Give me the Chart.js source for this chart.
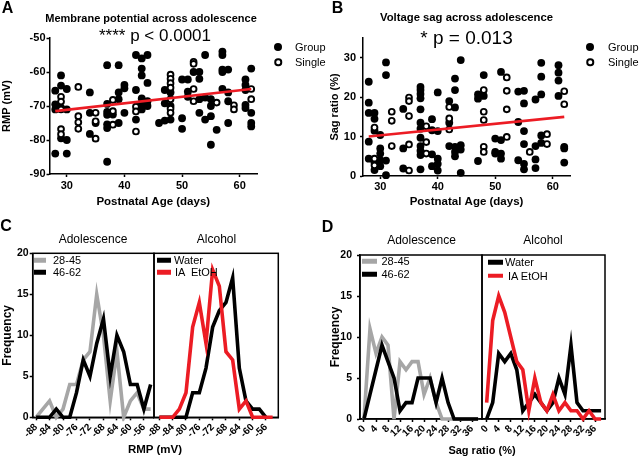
<!DOCTYPE html>
<html>
<head>
<meta charset="utf-8">
<script src="https://cdn.jsdelivr.net/npm/chart.js@4.4.1/dist/chart.umd.min.js"></script>
<style>
  body { margin: 0; background: #fff; }
  #wrap { position: relative; width: 640px; height: 460px; overflow: hidden;
          font-family: "Liberation Sans", Arial, sans-serif; color: #000; }
  #wrap canvas { position: absolute; left: 0; top: 0; }
  .c { position: absolute; white-space: pre; transform: translate(-50%, -50%); line-height: 1; }
  .l { position: absolute; white-space: pre; transform: translateY(-50%); line-height: 1; font-size: 11px; }
  .b { font-weight: bold; }
  .sw { position: absolute; height: 4.5px; transform: translateY(-50%); }
  .dot { position: absolute; width: 8px; height: 8px; border-radius: 50%; background: #000;
         transform: translate(-50%, -50%); box-sizing: border-box; }
  .dot.open { background: #fff; border: 2px solid #000; width: 7.5px; height: 7.5px; }
</style>
</head>
<body>
<div id="wrap">
  <canvas id="cA" width="640" height="460"></canvas>
  <canvas id="cB" width="640" height="460"></canvas>
  <canvas id="cC1" width="640" height="460"></canvas>
  <canvas id="cC2" width="640" height="460"></canvas>
  <canvas id="cD1" width="640" height="460"></canvas>
  <canvas id="cD2" width="640" height="460"></canvas>

  <div class="c b" style="left:7.5px;top:7.5px;font-size:16px">A</div>
  <div class="c b" style="left:337.5px;top:7.5px;font-size:16px">B</div>
  <div class="c b" style="left:6px;top:226px;font-size:16px">C</div>
  <div class="c b" style="left:327.5px;top:226.5px;font-size:16px">D</div>

  <div class="c b" style="left:151px;top:17.5px;font-size:11px">Membrane potential across adolescence</div>
  <div class="c" style="left:155px;top:35px;font-size:17px">**** p &lt; 0.0001</div>
  <div class="c b" style="left:466.5px;top:17.5px;font-size:11.3px">Voltage sag across adolescence</div>
  <div class="c" style="left:466.5px;top:36.5px;font-size:19px">* p = 0.013</div>

  <div class="dot" style="left:278px;top:47px"></div><div class="l" style="left:295px;top:47px">Group</div>
  <div class="dot open" style="left:278px;top:62px"></div><div class="l" style="left:295px;top:62px">Single</div>
  <div class="dot" style="left:590px;top:47px"></div><div class="l" style="left:608px;top:47px">Group</div>
  <div class="dot open" style="left:590px;top:62px"></div><div class="l" style="left:608px;top:62px">Single</div>

  <div class="c" style="left:93px;top:238.5px;font-size:12px">Adolescence</div>
  <div class="c" style="left:216.5px;top:238.5px;font-size:12px">Alcohol</div>
  <div class="c" style="left:421.5px;top:240px;font-size:12px">Adolescence</div>
  <div class="c" style="left:543px;top:240px;font-size:12px">Alcohol</div>
  <div class="c b" style="left:155px;top:450px;font-size:11.5px">RMP (mV)</div>
  <div class="c b" style="left:482px;top:449.5px;font-size:11px">Sag ratio (%)</div>

  <div class="sw" style="left:33.5px;top:260px;width:12.5px;background:#a6a6a6"></div><div class="l" style="left:53px;top:260px">28-45</div>
  <div class="sw" style="left:33.5px;top:272.3px;width:12.5px;background:#000"></div><div class="l" style="left:53px;top:272.3px">46-62</div>
  <div class="sw" style="left:157px;top:260px;width:14px;background:#000"></div><div class="l" style="left:174px;top:260px">Water</div>
  <div class="sw" style="left:157px;top:272px;width:14px;background:#ec1c24"></div><div class="l" style="left:175px;top:272px">IA  EtOH</div>
  <div class="sw" style="left:362px;top:261px;width:14.5px;background:#a6a6a6"></div><div class="l" style="left:381.5px;top:261px">28-45</div>
  <div class="sw" style="left:362px;top:274.3px;width:14.5px;background:#000"></div><div class="l" style="left:381.5px;top:274.3px">46-62</div>
  <div class="sw" style="left:488px;top:262.3px;width:14.5px;background:#000"></div><div class="l" style="left:505px;top:262.3px">Water</div>
  <div class="sw" style="left:488px;top:275.7px;width:14.5px;background:#ec1c24"></div><div class="l" style="left:508px;top:275.7px">IA EtOH</div>
</div>

<script>
// ---- data ----
const ageTicks = [30, 40, 50, 60];
const rmpTicks = [-90, -80, -70, -60, -50];
const sagTicks = [0, 10, 20, 30];

// A: resting membrane potential (mV) by postnatal day
const rmpGroup = [
  [28,-65.5],[28,-69.5],[28,-71],[28,-84],
  [29,-61],[29,-64],[29,-70.5],[29,-79.5],
  [30,-65],[30,-71],[30,-80],[30,-84],
  [34,-66],[34,-72],[34,-78.2],
  [35,-75],
  [37,-58],[37,-69.4],[37,-71.7],[37,-72.6],[37,-75.4],[37,-76.5],[37,-86.4],
  [38,-72.5],
  [39,-58],[39,-66],[39,-68],[39,-75],
  [40,-63.8],[40,-64.8],[40,-72],
  [42,-55],[42,-65.3],[42,-74],
  [43,-56],[43,-59],[43,-61],[43,-67.8],[43,-69.7],[43,-71],
  [44,-55],[44,-63.2],[44,-68.6],[44,-70],
  [46,-75],
  [47,-65.3],[47,-69.2],[47,-74.3],
  [48,-66],[48,-70],[48,-74],
  [50,-62.2],[50,-73.6],[50,-76.7],
  [51,-62.2],[51,-65.8],[51,-67.3],
  [52,-60],
  [53,-60],[53,-62],[53,-68],[53,-72],
  [54,-55],[54,-67.5],[54,-74],
  [55,-68],[55,-70],[55,-73],[55,-81.4],
  [56,-77],
  [57,-54],[57,-55],[57,-59.3],[57,-60],[57,-65],
  [58,-59.3],[58,-66],[58,-68.6],[58,-75],
  [61,-62.2],[61,-63.8],[61,-65.3],[61,-69.7],[61,-70.6],
  [62,-59],[62,-72],[62,-75],[62,-76]
];
const rmpSingle = [
  [29,-67.3],[29,-68.7],[29,-71],[29,-76.8],[29,-78.3],
  [32,-64.4],[32,-73],[32,-74.8],[32,-76.7],
  [35,-72],[35,-74.5],[35,-79.6],
  [38,-68.2],[38,-71.5],[38,-75.5],
  [42,-70.2],[42,-71.6],[42,-77.5],
  [48,-60.8],[48,-62],[48,-63.3],[48,-64.6],[48,-68],[48,-70.8],[48,-72],
  [52,-57],[52,-57.6],[52,-65],[52,-68.6],
  [56,-69],
  [59,-69.8],[59,-71],
  [62,-65],[62,-68]
];
const rmpFit = [[28,-71.5],[62,-65]];

// B: sag ratio (%) by postnatal day
const sagGroup = [
  [28,23.9],[28,18.6],[28,16],[28,8.7],[28,4.4],
  [29,16],[29,14.5],[29,11.5],[29,3.5],[29,1.5],
  [30,10.4],[30,7],[30,5.7],[30,4],[30,2.5],
  [31,28.8],[31,25.6],[31,3.9],[31,0.2],
  [34,17],[34,7],[34,1.9],
  [37,22.6],[37,21.8],[37,20.8],[37,19.7],[37,16.9],[37,13.5],[37,12],[37,9.7],[37,7.6],[37,6.4],[37,5.3],[37,1.7],
  [39,14.4],[39,11.6],[39,5.5],[39,2.5],
  [40,21.2],[40,11.4],[40,4.4],[40,3.1],[40,1.4],
  [42,19],[42,13.5],[42,7.6],
  [43,24.7],[43,21.8],[43,17.4],[43,7.4],[43,6.1],[43,5],
  [44,29.4],[44,7.8],[44,6.7],[44,0.8],
  [47,20.7],[47,19.6],[47,3.8],
  [48,25.6],[48,20.3],
  [50,9.5],[50,6.1],[50,5.7],
  [51,26.4],[51,9.1],[51,5.7],[51,4.4],
  [54,21.4],[54,13.7],[54,4],
  [55,21.6],[55,18.4],[55,11.4],[55,8.1],[55,3.1],[55,1.7],
  [57,19.4],[57,7.6],[57,4.2],[57,2],
  [58,28.7],[58,25.2],[58,20.7],[58,10.3],[58,8.4],
  [61,28.1],[61,26.2],[61,24.2],[61,20.3],
  [62,7.4],[62,7],[62,3.4]
];
const sagSingle = [
  [29,12.3],[29,4.4],[29,2.7],
  [32,16.3],[32,14],[32,7.6],
  [35,19.9],[35,19],[35,15.2],[35,8],[35,1.4],
  [38,12.6],[38,8.6],[38,5.7],
  [42,17.5],[42,14.6],[42,11.8],
  [48,21.8],[48,16.3],[48,14.2],[48,7.4],[48,6.1],
  [52,25],[52,21.6],[52,16.9],[52,9.9],
  [56,6.1],
  [59,10.6],[59,8.1],
  [62,21.5],[62,18.2]
];
const sagFit = [[28,10],[62,15]];

// C: RMP frequency distributions (2 mV bins)
const rmpBins    = [-88,-86,-84,-82,-80,-78,-76,-74,-72,-70,-68,-66,-64,-62,-60,-58,-56,-54];
const rmpBinTicks = [-88,-84,-80,-76,-72,-68,-64,-60,-56];
const rmpAge2845 = [0,1,2,0,1,4,4,7,8,15,10,2,8,0,2,3,1,1];
const rmpAge4662 = [0,0,0,1,0,0,3,7,5,9,12,5,10,8,4,4,1,4];
const rmpWater   = [0,0,0,0,0,3,3,6,11,13,14,17,6,2,1,1,0,null];
const rmpEtoh    = [0,0,0,1,3,11,14,9,18,16,8,7,1,2,0,0,0,0];

// D: sag ratio frequency distributions (2 % bins)
const sagBins    = [0,2,4,6,8,10,12,14,16,18,20,22,24,26,28,30,32,34,36,38];
const sagBinTicks = [0,4,8,12,16,20,24,28,32,36];
const sagAge2845 = [0,11,8,10,9,0,7,6,7,7,3,5,2,0,0,0,0,0,0,0];
const sagAge4662 = [0,3,6,9,7,5,1,2,2,5,5,5,2,5,2,0,0,0,0,0];
const sagWater   = [0,2,8,7,8,6,1,2,3,2,1,2,5,3,9,2,1,1,1,1];
const sagEtoh    = [2,12,15,13,10,7,6,1,5,2,1,3,1,2,1,1,0,1,0,0];
const freqTicks  = [0,5,10,15,20];

// ---- drawing ----
const RED = '#ec1c24';
const GRAY = '#a6a6a6';
Chart.defaults.font.family = "'Liberation Sans', Arial, sans-serif";
Chart.defaults.color = '#000';

// chart area given in page pixels; every canvas covers the whole page
function pad(area, yW, xH) {
  return { left: area.l - yW, top: area.t, right: 640 - area.r, bottom: 460 - area.b - xH };
}
function fixTicks(list) {
  return function (axis) { axis.ticks = list.map(v => ({ value: v })); };
}
const pts = arr => arr.map(p => ({ x: p[0], y: p[1] }));

const frame = {
  id: 'frame',
  beforeDatasetsDraw(chart) {
    const { ctx, chartArea: a } = chart;
    ctx.save();
    ctx.strokeStyle = '#000';
    ctx.lineWidth = 1.5;
    ctx.strokeRect(a.left, a.top, a.right - a.left, a.bottom - a.top);
    ctx.restore();
  }
};

function scatterChart(id, group, single, fit, o) {
  new Chart(document.getElementById(id), {
    type: 'scatter',
    data: {
      datasets: [
        { type: 'line', data: pts(fit), borderColor: RED, borderWidth: 2.6, pointRadius: 0, order: 0 },
        { data: pts(group), backgroundColor: '#000', borderColor: '#000', borderWidth: 0, pointRadius: 3.9, order: 2, clip: false },
        { data: pts(single), backgroundColor: '#fff', borderColor: '#000', borderWidth: 1.9, pointRadius: 2.9, order: 1, clip: false }
      ]
    },
    options: {
      responsive: false, animation: false, events: [],
      layout: { padding: pad(o.area, o.yW, o.xH) },
      plugins: { legend: { display: false }, tooltip: { enabled: false } },
      scales: {
        x: {
          type: 'linear', min: 27, max: 63,
          afterBuildTicks: fixTicks(ageTicks),
          afterFit: s => { s.height = o.xH; },
          grid: { drawOnChartArea: false, tickLength: 3, tickColor: '#000', tickWidth: 1.5 },
          border: { color: '#000', width: 1.5 },
          ticks: { font: { weight: 'bold', size: 11 }, padding: o.xTickPad },
          title: { display: true, text: 'Postnatal Age (days)', font: { weight: 'bold', size: 11.5 },
                   padding: { top: 0, bottom: o.xTitlePad } }
        },
        y: {
          min: o.yMin, max: o.yMax,
          afterBuildTicks: fixTicks(o.yTicks),
          afterFit: s => { s.width = o.yW; },
          grid: { drawOnChartArea: false, tickLength: 3, tickColor: '#000', tickWidth: 1.5 },
          border: { color: '#000', width: 1.5 },
          ticks: { font: { weight: 'bold', size: 11 }, padding: o.yTickPad },
          title: { display: true, text: o.yTitle, font: { weight: 'bold', size: 11 }, padding: { top: 0, bottom: 0 } }
        }
      }
    }
  });
}

function histChart(id, bins, series, o) {
  new Chart(document.getElementById(id), {
    type: 'line',
    data: {
      datasets: series.map(s => ({
        data: bins.map((b, i) => ({ x: b, y: s.counts[i] })),
        borderColor: s.color, borderWidth: 3.6, pointRadius: 0, tension: 0,
        borderJoinStyle: 'miter', fill: false, order: s.order, clip: 4
      }))
    },
    options: {
      responsive: false, animation: false, events: [],
      layout: { padding: pad(o.area, o.yW, 30) },
      plugins: { legend: { display: false }, tooltip: { enabled: false } },
      scales: {
        x: {
          type: 'linear', min: o.xMin, max: o.xMax,
          afterBuildTicks: fixTicks(o.ticks),
          afterFit: s => { s.height = 30; },
          grid: { drawOnChartArea: false, tickLength: 3, tickColor: '#000', tickWidth: 1.5 },
          border: { color: '#000', width: 1.5 },
          ticks: { minRotation: 45, maxRotation: 45, autoSkip: false, font: { weight: 'bold', size: 10 }, padding: 1 }
        },
        y: {
          display: o.yW > 0, min: 0, max: 20,
          afterBuildTicks: fixTicks(freqTicks),
          afterFit: s => { s.width = o.yW; },
          grid: { drawOnChartArea: false, tickLength: 3, tickColor: '#000', tickWidth: 1.5 },
          border: { color: '#000', width: 1.5 },
          ticks: { font: { weight: 'bold', size: 10.5 }, padding: o.yTickPad || 1 },
          title: { display: true, text: 'Frequency', font: { weight: 'bold', size: 12 }, padding: { top: 0, bottom: 0 } }
        }
      }
    },
    plugins: [frame]
  });
}

scatterChart('cA', rmpGroup, rmpSingle, rmpFit, {
  area: { l: 49.5, t: 38, r: 257, b: 174 }, yW: 49.5, xH: 46,
  yMin: -90, yMax: -50, yTicks: rmpTicks, yTitle: 'RMP (mV)',
  xTickPad: 2, xTitlePad: 11, yTickPad: 1
});
scatterChart('cB', sagGroup, sagSingle, sagFit, {
  area: { l: 363, t: 38, r: 570, b: 176 }, yW: 35, xH: 46,
  yMin: 0, yMax: 35, yTicks: sagTicks, yTitle: 'Sag ratio (%)',
  xTickPad: 1, xTitlePad: 13, yTickPad: 4
});

histChart('cC1', rmpBins, [
  { counts: rmpAge2845, color: GRAY, order: 2 },
  { counts: rmpAge4662, color: '#000', order: 1 }
], { area: { l: 32.7, t: 253.3, r: 154, b: 417.3 }, yW: 32.7, xMin: -89, xMax: -53, ticks: rmpBinTicks, yTickPad: 1 });

histChart('cC2', rmpBins, [
  { counts: rmpWater, color: '#000', order: 2 },
  { counts: rmpEtoh, color: RED, order: 1 }
], { area: { l: 154, t: 253.3, r: 278.3, b: 417.3 }, yW: 0, xMin: -89.6, xMax: -52.3, ticks: rmpBinTicks });

histChart('cD1', sagBins, [
  { counts: sagAge2845, color: GRAY, order: 2 },
  { counts: sagAge4662, color: '#000', order: 1 }
], { area: { l: 360, t: 255, r: 482, b: 419 }, yW: 32, xMin: -1.33, xMax: 39.3, ticks: sagBinTicks, yTickPad: 5 });

histChart('cD2', sagBins, [
  { counts: sagWater, color: '#000', order: 2 },
  { counts: sagEtoh, color: RED, order: 1 }
], { area: { l: 482, t: 255, r: 605, b: 419 }, yW: 0, xMin: -1.55, xMax: 39.3, ticks: sagBinTicks });
</script>
</body>
</html>
